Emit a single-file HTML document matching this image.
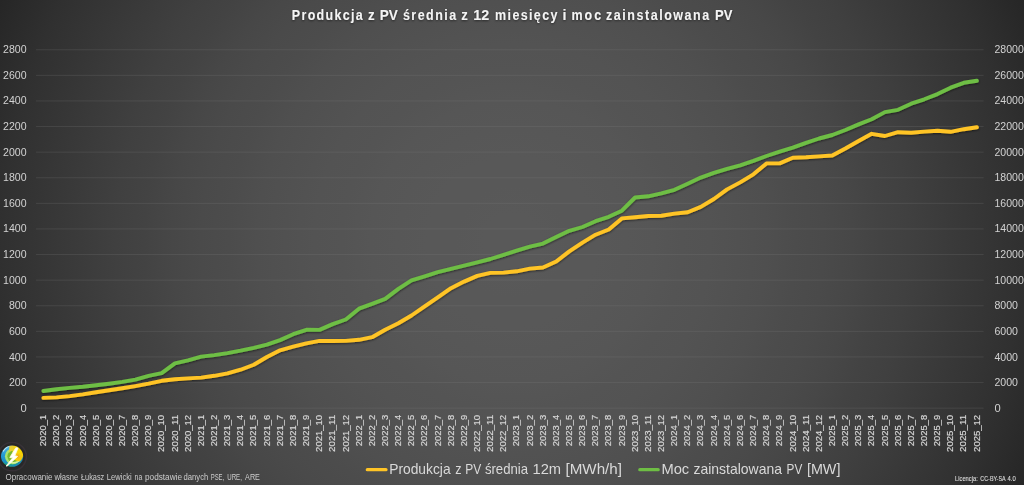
<!DOCTYPE html>
<html lang="pl"><head><meta charset="utf-8"><title>Produkcja z PV</title>
<style>
html,body{margin:0;padding:0;background:#2b2b2b;}
body{width:1024px;height:485px;overflow:hidden;}
svg{display:block;font-family:"Liberation Sans",sans-serif;}
</style></head><body>
<svg width="1024" height="485" viewBox="0 0 1024 485">
<defs>
<radialGradient id="bg" gradientUnits="userSpaceOnUse" cx="512" cy="242" r="566">
<stop offset="0.00" stop-color="#595959"/><stop offset="0.05" stop-color="#595959"/><stop offset="0.10" stop-color="#585858"/><stop offset="0.15" stop-color="#585858"/><stop offset="0.20" stop-color="#575757"/><stop offset="0.25" stop-color="#565656"/><stop offset="0.30" stop-color="#545454"/><stop offset="0.35" stop-color="#535353"/><stop offset="0.40" stop-color="#515151"/><stop offset="0.45" stop-color="#4f4f4f"/><stop offset="0.50" stop-color="#4c4c4c"/><stop offset="0.55" stop-color="#4a4a4a"/><stop offset="0.60" stop-color="#474747"/><stop offset="0.65" stop-color="#434343"/><stop offset="0.70" stop-color="#404040"/><stop offset="0.75" stop-color="#3c3c3c"/><stop offset="0.80" stop-color="#383838"/><stop offset="0.85" stop-color="#343434"/><stop offset="0.90" stop-color="#303030"/><stop offset="0.95" stop-color="#2b2b2b"/><stop offset="1.00" stop-color="#262626"/>
</radialGradient>
<filter id="sh" x="-5%" y="-20%" width="110%" height="140%"><feDropShadow dx="0.2" dy="0.9" stdDeviation="0.9" flood-color="#000" flood-opacity="0.55"/></filter>
<filter id="tsh" x="-5%" y="-50%" width="110%" height="200%"><feDropShadow dx="0" dy="1" stdDeviation="1.2" flood-color="#000" flood-opacity="0.5"/></filter>
</defs>
<rect width="1024" height="485" fill="url(#bg)"/>

<g stroke="#848484" stroke-opacity="0.22" stroke-width="1">
<line x1="36.0" x2="983.6" y1="408.15" y2="408.15"/>
<line x1="36.0" x2="983.6" y1="382.55" y2="382.55"/>
<line x1="36.0" x2="983.6" y1="356.95" y2="356.95"/>
<line x1="36.0" x2="983.6" y1="331.35" y2="331.35"/>
<line x1="36.0" x2="983.6" y1="305.75" y2="305.75"/>
<line x1="36.0" x2="983.6" y1="280.15" y2="280.15"/>
<line x1="36.0" x2="983.6" y1="254.55" y2="254.55"/>
<line x1="36.0" x2="983.6" y1="228.95" y2="228.95"/>
<line x1="36.0" x2="983.6" y1="203.35" y2="203.35"/>
<line x1="36.0" x2="983.6" y1="177.75" y2="177.75"/>
<line x1="36.0" x2="983.6" y1="152.15" y2="152.15"/>
<line x1="36.0" x2="983.6" y1="126.55" y2="126.55"/>
<line x1="36.0" x2="983.6" y1="100.95" y2="100.95"/>
<line x1="36.0" x2="983.6" y1="75.35" y2="75.35"/>
<line x1="36.0" x2="983.6" y1="49.75" y2="49.75"/>
</g>
<g font-size="11" fill="#d2d2d2" opacity="0.999">
<text x="26.6" y="411.9" text-anchor="end" textLength="6.2" lengthAdjust="spacingAndGlyphs">0</text>
<text x="994.5" y="411.9" textLength="6.2" lengthAdjust="spacingAndGlyphs">0</text>
<text x="26.6" y="386.3" text-anchor="end" textLength="17.7" lengthAdjust="spacingAndGlyphs">200</text>
<text x="994.5" y="386.3" textLength="23.5" lengthAdjust="spacingAndGlyphs">2000</text>
<text x="26.6" y="360.6" text-anchor="end" textLength="17.7" lengthAdjust="spacingAndGlyphs">400</text>
<text x="994.5" y="360.6" textLength="23.5" lengthAdjust="spacingAndGlyphs">4000</text>
<text x="26.6" y="335.0" text-anchor="end" textLength="17.7" lengthAdjust="spacingAndGlyphs">600</text>
<text x="994.5" y="335.0" textLength="23.5" lengthAdjust="spacingAndGlyphs">6000</text>
<text x="26.6" y="309.4" text-anchor="end" textLength="17.7" lengthAdjust="spacingAndGlyphs">800</text>
<text x="994.5" y="309.4" textLength="23.5" lengthAdjust="spacingAndGlyphs">8000</text>
<text x="26.6" y="283.7" text-anchor="end" textLength="23.5" lengthAdjust="spacingAndGlyphs">1000</text>
<text x="994.5" y="283.7" textLength="29.3" lengthAdjust="spacingAndGlyphs">10000</text>
<text x="26.6" y="258.1" text-anchor="end" textLength="23.5" lengthAdjust="spacingAndGlyphs">1200</text>
<text x="994.5" y="258.1" textLength="29.3" lengthAdjust="spacingAndGlyphs">12000</text>
<text x="26.6" y="232.4" text-anchor="end" textLength="23.5" lengthAdjust="spacingAndGlyphs">1400</text>
<text x="994.5" y="232.4" textLength="29.3" lengthAdjust="spacingAndGlyphs">14000</text>
<text x="26.6" y="206.8" text-anchor="end" textLength="23.5" lengthAdjust="spacingAndGlyphs">1600</text>
<text x="994.5" y="206.8" textLength="29.3" lengthAdjust="spacingAndGlyphs">16000</text>
<text x="26.6" y="181.1" text-anchor="end" textLength="23.5" lengthAdjust="spacingAndGlyphs">1800</text>
<text x="994.5" y="181.1" textLength="29.3" lengthAdjust="spacingAndGlyphs">18000</text>
<text x="26.6" y="155.5" text-anchor="end" textLength="23.5" lengthAdjust="spacingAndGlyphs">2000</text>
<text x="994.5" y="155.5" textLength="29.3" lengthAdjust="spacingAndGlyphs">20000</text>
<text x="26.6" y="129.8" text-anchor="end" textLength="23.5" lengthAdjust="spacingAndGlyphs">2200</text>
<text x="994.5" y="129.8" textLength="29.3" lengthAdjust="spacingAndGlyphs">22000</text>
<text x="26.6" y="104.2" text-anchor="end" textLength="23.5" lengthAdjust="spacingAndGlyphs">2400</text>
<text x="994.5" y="104.2" textLength="29.3" lengthAdjust="spacingAndGlyphs">24000</text>
<text x="26.6" y="78.5" text-anchor="end" textLength="23.5" lengthAdjust="spacingAndGlyphs">2600</text>
<text x="994.5" y="78.5" textLength="29.3" lengthAdjust="spacingAndGlyphs">26000</text>
<text x="26.6" y="52.9" text-anchor="end" textLength="23.5" lengthAdjust="spacingAndGlyphs">2800</text>
<text x="994.5" y="52.9" textLength="29.3" lengthAdjust="spacingAndGlyphs">28000</text>
</g>
<g font-size="9.6" fill="#d8d8d8" stroke="#d8d8d8" stroke-width="0.18" opacity="0.999">
<text transform="translate(46.0,414.9) rotate(-90)" text-anchor="end" textLength="31.3" lengthAdjust="spacingAndGlyphs">2020_1</text>
<text transform="translate(59.2,414.9) rotate(-90)" text-anchor="end" textLength="31.3" lengthAdjust="spacingAndGlyphs">2020_2</text>
<text transform="translate(72.3,414.9) rotate(-90)" text-anchor="end" textLength="31.3" lengthAdjust="spacingAndGlyphs">2020_3</text>
<text transform="translate(85.5,414.9) rotate(-90)" text-anchor="end" textLength="31.3" lengthAdjust="spacingAndGlyphs">2020_4</text>
<text transform="translate(98.6,414.9) rotate(-90)" text-anchor="end" textLength="31.3" lengthAdjust="spacingAndGlyphs">2020_5</text>
<text transform="translate(111.8,414.9) rotate(-90)" text-anchor="end" textLength="31.3" lengthAdjust="spacingAndGlyphs">2020_6</text>
<text transform="translate(124.9,414.9) rotate(-90)" text-anchor="end" textLength="31.3" lengthAdjust="spacingAndGlyphs">2020_7</text>
<text transform="translate(138.1,414.9) rotate(-90)" text-anchor="end" textLength="31.3" lengthAdjust="spacingAndGlyphs">2020_8</text>
<text transform="translate(151.2,414.9) rotate(-90)" text-anchor="end" textLength="31.3" lengthAdjust="spacingAndGlyphs">2020_9</text>
<text transform="translate(164.4,414.9) rotate(-90)" text-anchor="end" textLength="37.0" lengthAdjust="spacingAndGlyphs">2020_10</text>
<text transform="translate(177.5,414.9) rotate(-90)" text-anchor="end" textLength="37.0" lengthAdjust="spacingAndGlyphs">2020_11</text>
<text transform="translate(190.7,414.9) rotate(-90)" text-anchor="end" textLength="37.0" lengthAdjust="spacingAndGlyphs">2020_12</text>
<text transform="translate(203.8,414.9) rotate(-90)" text-anchor="end" textLength="31.3" lengthAdjust="spacingAndGlyphs">2021_1</text>
<text transform="translate(217.0,414.9) rotate(-90)" text-anchor="end" textLength="31.3" lengthAdjust="spacingAndGlyphs">2021_2</text>
<text transform="translate(230.1,414.9) rotate(-90)" text-anchor="end" textLength="31.3" lengthAdjust="spacingAndGlyphs">2021_3</text>
<text transform="translate(243.3,414.9) rotate(-90)" text-anchor="end" textLength="31.3" lengthAdjust="spacingAndGlyphs">2021_4</text>
<text transform="translate(256.4,414.9) rotate(-90)" text-anchor="end" textLength="31.3" lengthAdjust="spacingAndGlyphs">2021_5</text>
<text transform="translate(269.6,414.9) rotate(-90)" text-anchor="end" textLength="31.3" lengthAdjust="spacingAndGlyphs">2021_6</text>
<text transform="translate(282.7,414.9) rotate(-90)" text-anchor="end" textLength="31.3" lengthAdjust="spacingAndGlyphs">2021_7</text>
<text transform="translate(295.9,414.9) rotate(-90)" text-anchor="end" textLength="31.3" lengthAdjust="spacingAndGlyphs">2021_8</text>
<text transform="translate(309.0,414.9) rotate(-90)" text-anchor="end" textLength="31.3" lengthAdjust="spacingAndGlyphs">2021_9</text>
<text transform="translate(322.2,414.9) rotate(-90)" text-anchor="end" textLength="37.0" lengthAdjust="spacingAndGlyphs">2021_10</text>
<text transform="translate(335.3,414.9) rotate(-90)" text-anchor="end" textLength="37.0" lengthAdjust="spacingAndGlyphs">2021_11</text>
<text transform="translate(348.5,414.9) rotate(-90)" text-anchor="end" textLength="37.0" lengthAdjust="spacingAndGlyphs">2021_12</text>
<text transform="translate(361.6,414.9) rotate(-90)" text-anchor="end" textLength="31.3" lengthAdjust="spacingAndGlyphs">2022_1</text>
<text transform="translate(374.7,414.9) rotate(-90)" text-anchor="end" textLength="31.3" lengthAdjust="spacingAndGlyphs">2022_2</text>
<text transform="translate(387.9,414.9) rotate(-90)" text-anchor="end" textLength="31.3" lengthAdjust="spacingAndGlyphs">2022_3</text>
<text transform="translate(401.0,414.9) rotate(-90)" text-anchor="end" textLength="31.3" lengthAdjust="spacingAndGlyphs">2022_4</text>
<text transform="translate(414.2,414.9) rotate(-90)" text-anchor="end" textLength="31.3" lengthAdjust="spacingAndGlyphs">2022_5</text>
<text transform="translate(427.3,414.9) rotate(-90)" text-anchor="end" textLength="31.3" lengthAdjust="spacingAndGlyphs">2022_6</text>
<text transform="translate(440.5,414.9) rotate(-90)" text-anchor="end" textLength="31.3" lengthAdjust="spacingAndGlyphs">2022_7</text>
<text transform="translate(453.6,414.9) rotate(-90)" text-anchor="end" textLength="31.3" lengthAdjust="spacingAndGlyphs">2022_8</text>
<text transform="translate(466.8,414.9) rotate(-90)" text-anchor="end" textLength="31.3" lengthAdjust="spacingAndGlyphs">2022_9</text>
<text transform="translate(479.9,414.9) rotate(-90)" text-anchor="end" textLength="37.0" lengthAdjust="spacingAndGlyphs">2022_10</text>
<text transform="translate(493.1,414.9) rotate(-90)" text-anchor="end" textLength="37.0" lengthAdjust="spacingAndGlyphs">2022_11</text>
<text transform="translate(506.2,414.9) rotate(-90)" text-anchor="end" textLength="37.0" lengthAdjust="spacingAndGlyphs">2022_12</text>
<text transform="translate(519.4,414.9) rotate(-90)" text-anchor="end" textLength="31.3" lengthAdjust="spacingAndGlyphs">2023_1</text>
<text transform="translate(532.5,414.9) rotate(-90)" text-anchor="end" textLength="31.3" lengthAdjust="spacingAndGlyphs">2023_2</text>
<text transform="translate(545.7,414.9) rotate(-90)" text-anchor="end" textLength="31.3" lengthAdjust="spacingAndGlyphs">2023_3</text>
<text transform="translate(558.8,414.9) rotate(-90)" text-anchor="end" textLength="31.3" lengthAdjust="spacingAndGlyphs">2023_4</text>
<text transform="translate(572.0,414.9) rotate(-90)" text-anchor="end" textLength="31.3" lengthAdjust="spacingAndGlyphs">2023_5</text>
<text transform="translate(585.1,414.9) rotate(-90)" text-anchor="end" textLength="31.3" lengthAdjust="spacingAndGlyphs">2023_6</text>
<text transform="translate(598.3,414.9) rotate(-90)" text-anchor="end" textLength="31.3" lengthAdjust="spacingAndGlyphs">2023_7</text>
<text transform="translate(611.4,414.9) rotate(-90)" text-anchor="end" textLength="31.3" lengthAdjust="spacingAndGlyphs">2023_8</text>
<text transform="translate(624.6,414.9) rotate(-90)" text-anchor="end" textLength="31.3" lengthAdjust="spacingAndGlyphs">2023_9</text>
<text transform="translate(637.7,414.9) rotate(-90)" text-anchor="end" textLength="37.0" lengthAdjust="spacingAndGlyphs">2023_10</text>
<text transform="translate(650.9,414.9) rotate(-90)" text-anchor="end" textLength="37.0" lengthAdjust="spacingAndGlyphs">2023_11</text>
<text transform="translate(664.0,414.9) rotate(-90)" text-anchor="end" textLength="37.0" lengthAdjust="spacingAndGlyphs">2023_12</text>
<text transform="translate(677.2,414.9) rotate(-90)" text-anchor="end" textLength="31.3" lengthAdjust="spacingAndGlyphs">2024_1</text>
<text transform="translate(690.3,414.9) rotate(-90)" text-anchor="end" textLength="31.3" lengthAdjust="spacingAndGlyphs">2024_2</text>
<text transform="translate(703.4,414.9) rotate(-90)" text-anchor="end" textLength="31.3" lengthAdjust="spacingAndGlyphs">2024_3</text>
<text transform="translate(716.6,414.9) rotate(-90)" text-anchor="end" textLength="31.3" lengthAdjust="spacingAndGlyphs">2024_4</text>
<text transform="translate(729.7,414.9) rotate(-90)" text-anchor="end" textLength="31.3" lengthAdjust="spacingAndGlyphs">2024_5</text>
<text transform="translate(742.9,414.9) rotate(-90)" text-anchor="end" textLength="31.3" lengthAdjust="spacingAndGlyphs">2024_6</text>
<text transform="translate(756.0,414.9) rotate(-90)" text-anchor="end" textLength="31.3" lengthAdjust="spacingAndGlyphs">2024_7</text>
<text transform="translate(769.2,414.9) rotate(-90)" text-anchor="end" textLength="31.3" lengthAdjust="spacingAndGlyphs">2024_8</text>
<text transform="translate(782.3,414.9) rotate(-90)" text-anchor="end" textLength="31.3" lengthAdjust="spacingAndGlyphs">2024_9</text>
<text transform="translate(795.5,414.9) rotate(-90)" text-anchor="end" textLength="37.0" lengthAdjust="spacingAndGlyphs">2024_10</text>
<text transform="translate(808.6,414.9) rotate(-90)" text-anchor="end" textLength="37.0" lengthAdjust="spacingAndGlyphs">2024_11</text>
<text transform="translate(821.8,414.9) rotate(-90)" text-anchor="end" textLength="37.0" lengthAdjust="spacingAndGlyphs">2024_12</text>
<text transform="translate(834.9,414.9) rotate(-90)" text-anchor="end" textLength="31.3" lengthAdjust="spacingAndGlyphs">2025_1</text>
<text transform="translate(848.1,414.9) rotate(-90)" text-anchor="end" textLength="31.3" lengthAdjust="spacingAndGlyphs">2025_2</text>
<text transform="translate(861.2,414.9) rotate(-90)" text-anchor="end" textLength="31.3" lengthAdjust="spacingAndGlyphs">2025_3</text>
<text transform="translate(874.4,414.9) rotate(-90)" text-anchor="end" textLength="31.3" lengthAdjust="spacingAndGlyphs">2025_4</text>
<text transform="translate(887.5,414.9) rotate(-90)" text-anchor="end" textLength="31.3" lengthAdjust="spacingAndGlyphs">2025_5</text>
<text transform="translate(900.7,414.9) rotate(-90)" text-anchor="end" textLength="31.3" lengthAdjust="spacingAndGlyphs">2025_6</text>
<text transform="translate(913.8,414.9) rotate(-90)" text-anchor="end" textLength="31.3" lengthAdjust="spacingAndGlyphs">2025_7</text>
<text transform="translate(927.0,414.9) rotate(-90)" text-anchor="end" textLength="31.3" lengthAdjust="spacingAndGlyphs">2025_8</text>
<text transform="translate(940.1,414.9) rotate(-90)" text-anchor="end" textLength="31.3" lengthAdjust="spacingAndGlyphs">2025_9</text>
<text transform="translate(953.3,414.9) rotate(-90)" text-anchor="end" textLength="37.0" lengthAdjust="spacingAndGlyphs">2025_10</text>
<text transform="translate(966.4,414.9) rotate(-90)" text-anchor="end" textLength="37.0" lengthAdjust="spacingAndGlyphs">2025_11</text>
<text transform="translate(979.6,414.9) rotate(-90)" text-anchor="end" textLength="37.0" lengthAdjust="spacingAndGlyphs">2025_12</text>
</g>
<g fill="none" stroke-width="3.9" stroke-linecap="round" stroke-linejoin="round" filter="url(#sh)">
<polyline stroke="#ffc425" points="43.4,397.9 56.5,397.4 69.7,396.1 82.8,394.4 96.0,392.3 109.1,390.3 122.3,388.3 135.4,386.1 148.6,383.6 161.7,380.8 174.9,379.3 188.0,378.4 201.2,377.6 214.3,375.8 227.5,373.3 240.6,369.7 253.8,364.7 266.9,357.0 280.1,350.3 293.2,346.7 306.4,343.3 319.5,340.9 332.7,341.0 345.8,340.9 359.0,339.8 372.1,337.2 385.2,329.7 398.4,323.3 411.5,315.5 424.7,306.4 437.8,297.3 451.0,288.2 464.1,281.6 477.3,275.9 490.4,272.9 503.6,272.6 516.7,271.3 529.9,268.6 543.0,267.5 556.2,261.5 569.3,251.4 582.5,242.6 595.6,234.7 608.8,229.5 621.9,218.4 635.1,217.3 648.2,216.0 661.4,215.7 674.5,213.6 687.7,212.2 700.8,206.9 713.9,199.0 727.1,189.4 740.2,182.4 753.4,174.3 766.5,163.4 779.7,163.4 792.8,157.8 806.0,157.3 819.1,156.4 832.3,155.5 845.4,148.5 858.6,141.0 871.7,133.8 884.9,136.0 898.0,132.2 911.2,132.7 924.3,131.6 937.5,130.8 950.6,131.8 963.8,129.2 976.9,127.2"/>
<polyline stroke="#6ebe44" points="43.4,391.0 56.5,389.2 69.7,387.9 82.8,386.8 96.0,385.3 109.1,383.7 122.3,381.9 135.4,379.7 148.6,375.8 161.7,373.1 174.9,363.4 188.0,360.4 201.2,356.6 214.3,355.1 227.5,353.1 240.6,350.7 253.8,347.8 266.9,344.6 280.1,340.1 293.2,334.2 306.4,329.8 319.5,329.9 332.7,324.1 345.8,319.5 359.0,308.7 372.1,303.8 385.2,298.9 398.4,288.9 411.5,280.4 424.7,276.3 437.8,272.2 451.0,268.9 464.1,265.6 477.3,262.3 490.4,259.0 503.6,254.8 516.7,250.6 529.9,246.6 543.0,243.6 556.2,237.0 569.3,230.8 582.5,227.0 595.6,221.2 608.8,216.8 621.9,210.7 635.1,197.5 648.2,196.3 661.4,193.4 674.5,189.8 687.7,183.7 700.8,177.6 713.9,172.8 727.1,168.8 740.2,165.3 753.4,160.9 766.5,156.0 779.7,151.6 792.8,147.6 806.0,142.8 819.1,138.5 832.3,135.0 845.4,130.0 858.6,124.4 871.7,119.2 884.9,112.1 898.0,109.8 911.2,103.7 924.3,99.3 937.5,94.1 950.6,87.7 963.8,82.8 976.9,80.8"/>
</g>
<g filter="url(#tsh)" font-weight="bold" font-size="13.9" fill="#f4f4f4">
<text transform="translate(291.8 19.9) scale(0.9 1)" textLength="78.9" lengthAdjust="spacing">Produkcja</text>
<text x="367.9" y="19.9" textLength="6.7" lengthAdjust="spacingAndGlyphs">z</text>
<text x="379.7" y="19.9" textLength="18.1" lengthAdjust="spacingAndGlyphs">PV</text>
<text transform="translate(402.9 19.9) scale(0.9 1)" textLength="59.2" lengthAdjust="spacing">średnia</text>
<text x="461.3" y="19.9" textLength="6.6" lengthAdjust="spacingAndGlyphs">z</text>
<text x="473.3" y="19.9" textLength="16.0" lengthAdjust="spacingAndGlyphs">12</text>
<text transform="translate(495.1 19.9) scale(0.9 1)" textLength="69.3" lengthAdjust="spacing">miesięcy</text>
<text x="562.4" y="19.9" textLength="4.0" lengthAdjust="spacingAndGlyphs">i</text>
<text transform="translate(571.5 19.9) scale(0.9 1)" textLength="33.0" lengthAdjust="spacing">moc</text>
<text transform="translate(606.1 19.9) scale(0.9 1)" textLength="114.6" lengthAdjust="spacing">zainstalowana</text>
<text x="715.0" y="19.9" textLength="17.4" lengthAdjust="spacingAndGlyphs">PV</text>
</g>
<g opacity="0.999">
<line x1="367.3" x2="386.0" y1="469.7" y2="469.7" stroke="#ffc425" stroke-width="3.2" stroke-linecap="round"/>
<line x1="639.8" x2="658.2" y1="469.7" y2="469.7" stroke="#6ebe44" stroke-width="3.2" stroke-linecap="round"/>
<text x="389.2" y="473.7" font-size="14.2" fill="#d9d9d9" textLength="61.4" lengthAdjust="spacingAndGlyphs">Produkcja</text>
<text x="455.2" y="473.7" font-size="14.2" fill="#d9d9d9" textLength="6.3" lengthAdjust="spacingAndGlyphs">z</text>
<text x="465.2" y="473.7" font-size="14.2" fill="#d9d9d9" textLength="16.0" lengthAdjust="spacingAndGlyphs">PV</text>
<text x="484.9" y="473.7" font-size="14.2" fill="#d9d9d9" textLength="43.2" lengthAdjust="spacingAndGlyphs">średnia</text>
<text x="532.5" y="473.7" font-size="14.2" fill="#d9d9d9" textLength="28.6" lengthAdjust="spacingAndGlyphs">12m</text>
<text x="565.5" y="473.7" font-size="14.2" fill="#d9d9d9" textLength="56.5" lengthAdjust="spacingAndGlyphs">[MWh/h]</text>
<text x="661.4" y="473.7" font-size="14.2" fill="#d9d9d9" textLength="27.8" lengthAdjust="spacingAndGlyphs">Moc</text>
<text x="693.4" y="473.7" font-size="14.2" fill="#d9d9d9" textLength="88.6" lengthAdjust="spacingAndGlyphs">zainstalowana</text>
<text x="786.6" y="473.7" font-size="14.2" fill="#d9d9d9" textLength="15.7" lengthAdjust="spacingAndGlyphs">PV</text>
<text x="806.9" y="473.7" font-size="14.2" fill="#d9d9d9" textLength="33.5" lengthAdjust="spacingAndGlyphs">[MW]</text>
</g>
<g opacity="0.999">
<text x="5.5" y="479.7" font-size="8.7" fill="#cccccc" textLength="47.0" lengthAdjust="spacingAndGlyphs">Opracowanie</text>
<text x="54.6" y="479.7" font-size="8.7" fill="#cccccc" textLength="23.7" lengthAdjust="spacingAndGlyphs">własne</text>
<text x="81.0" y="479.7" font-size="8.7" fill="#cccccc" textLength="23.3" lengthAdjust="spacingAndGlyphs">Łukasz</text>
<text x="106.8" y="479.7" font-size="8.7" fill="#cccccc" textLength="25.0" lengthAdjust="spacingAndGlyphs">Lewicki</text>
<text x="134.6" y="479.7" font-size="8.7" fill="#cccccc" textLength="7.7" lengthAdjust="spacingAndGlyphs">na</text>
<text x="145.0" y="479.7" font-size="8.7" fill="#cccccc" textLength="37.0" lengthAdjust="spacingAndGlyphs">podstawie</text>
<text x="183.6" y="479.7" font-size="8.7" fill="#cccccc" textLength="24.7" lengthAdjust="spacingAndGlyphs">danych</text>
<text x="210.7" y="479.7" font-size="8.7" fill="#cccccc" textLength="13.5" lengthAdjust="spacingAndGlyphs">PSE,</text>
<text x="227.3" y="479.7" font-size="8.7" fill="#cccccc" textLength="14.6" lengthAdjust="spacingAndGlyphs">URE,</text>
<text x="245.1" y="479.7" font-size="8.7" fill="#cccccc" textLength="14.8" lengthAdjust="spacingAndGlyphs">ARE</text>
<text x="955.0" y="480.8" font-size="7.3" fill="#dddddd" textLength="22.8" lengthAdjust="spacingAndGlyphs" stroke="#dddddd" stroke-width="0.12">Licencja:</text>
<text x="980.3" y="480.8" font-size="7.3" fill="#dddddd" textLength="25.3" lengthAdjust="spacingAndGlyphs" stroke="#dddddd" stroke-width="0.12">CC-BY-SA</text>
<text x="1007.6" y="480.8" font-size="7.3" fill="#dddddd" textLength="8.2" lengthAdjust="spacingAndGlyphs" stroke="#dddddd" stroke-width="0.12">4.0</text>
</g>
<g id="logo">
<defs>
<clipPath id="lc"><ellipse cx="12.1" cy="456.2" rx="11.1" ry="10.6"/></clipPath>
<linearGradient id="lgY" x1="0" y1="0" x2="1" y2="1"><stop offset="0" stop-color="#f0cf20"/><stop offset="0.55" stop-color="#f8d800"/><stop offset="1" stop-color="#eeb020"/></linearGradient>
<linearGradient id="lgB" x1="0" y1="0" x2="0" y2="1"><stop offset="0" stop-color="#62bfe6"/><stop offset="0.45" stop-color="#2097d3"/><stop offset="1" stop-color="#1d86b4"/></linearGradient>
<linearGradient id="lgG" x1="0" y1="0" x2="1" y2="0"><stop offset="0" stop-color="#25a27a"/><stop offset="0.5" stop-color="#1fa08e"/><stop offset="1" stop-color="#1c7fbb"/></linearGradient>
<radialGradient id="lgO" cx="0.5" cy="0.5" r="0.5"><stop offset="0" stop-color="#f09a1c"/><stop offset="1" stop-color="#f5c010" stop-opacity="0"/></radialGradient>
<filter id="lb" x="-20%" y="-20%" width="140%" height="140%"><feGaussianBlur stdDeviation="0.55"/></filter>
</defs>
<circle cx="12.2" cy="456.6" r="14.2" fill="none" stroke="#4a3c4c" stroke-width="1.4" opacity="0.4"/>
<circle cx="12.2" cy="456.6" r="12.6" fill="#262426" opacity="0.6"/>
<g clip-path="url(#lc)"><g filter="url(#lb)">
<rect x="0" y="444" width="26" height="26" fill="url(#lgB)"/>
<path d="M-1 459 C4 465 13 466 25 456 L27 470 L-1 470 Z" fill="url(#lgG)"/>
<circle cx="12.8" cy="456.3" r="7.9" fill="#a8e272"/>
<circle cx="13.4" cy="456.3" r="6.0" fill="#78b82e"/>
<path d="M11.5 443 L26 443 L26 460 C22 463 17 462 14 459 L13 456 Z" fill="url(#lgY)"/>
<path d="M9.5 443.5 L14 443.5 L13.5 450 C11.5 450.5 10 451.5 9 453 Z" fill="#e8cf30"/>
<circle cx="17.6" cy="456.2" r="4.2" fill="url(#lgO)"/>
<path d="M8.5 461 C11 464.2 16 464.5 20.5 460.5 C17 462 12.5 462.5 8.5 461 Z" fill="#d8f2a0"/>
<path d="M20.5 460.8 C22.3 459 23 457 23.2 455 L26 456 L24 464 L18 467 C 14 467 12 466.5 9 465 C14 465.8 18 464.2 20.5 460.8 Z" fill="#1d8ab2"/>
<path d="M2.4 450.5 C5 446.2 9 445 12.5 445.3 C8.5 446.3 5.5 448.5 3.4 452 Z" fill="#c8ecf6" opacity="0.85"/>
</g></g>
<path d="M15.9 447.7 L9.8 457.5 L12.7 457.8 L6.2 466.0 L7.0 466.2 L17.6 456.4 L14.8 455.8 L18.0 448.1 Z" fill="#ffffff" stroke="#fffde0" stroke-width="0.9" stroke-linejoin="round"/>
</g>
</svg></body></html>
